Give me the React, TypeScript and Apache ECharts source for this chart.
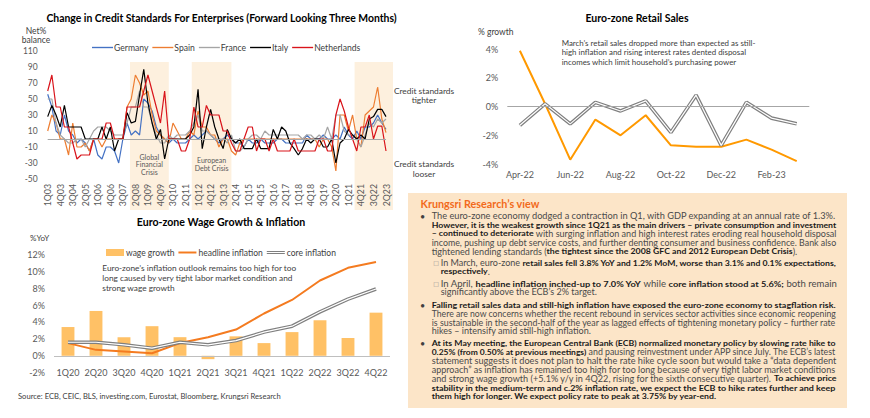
import React, { useEffect, useRef } from 'react';
import * as echarts from 'echarts';

// ---------- Credit standards (quarterly 1Q03 - 2Q23) ----------
const quarters: string[] = [];
for (let y = 2003; y <= 2023; y++) {
  for (let q = 1; q <= 4; q++) {
    if (y === 2023 && q > 2) break;
    quarters.push(`${q}Q${String(y).slice(2)}`);
  }
}

const germany = [
  56, 40, 10, 5, 30, 10, 5, -5, 0, -5, -15, 0, -20, -25, -10, -10, -15, -30, 0, 20,
  5, 10, 5, 50, 45, 35, 15, 5, 0, -5, 0, -5, -5, -5, 0, 5, 0, 5, 10, 5,
  0, -5, 0, 5, 0, -5, -5, -10, 0, -5, -5, 0, -5, -5, -5, 0, 0, -5, -5, -5,
  -5, -5, 5, 0, 0, 0, 5, 0, 0, 5, 0, 15, 5, 0, 10, 0, 15, 15, 20, 30,
  20, 12,
];
const spain = [
  10, 30, 20, 0, 0, -20, 20, -10, -10, -5, -15, 0, 0, -10, 0, 0, 0, 0, 0, 40,
  50, 80, 70, 55, 60, 30, 10, 5, 0, -5, 20, 10, 0, 0, 10, 5, 35, 15, 15, 5,
  5, -10, 0, 0, -15, -20, -5, 0, 0, 0, 0, 0, 0, 0, 0, 0, 0, 0, 0, 0,
  0, 0, 0, 0, 0, -10, 0, 0, -10, -40, 30, 30, 10, 30, 0, -10, 30, 35, 40, 65,
  25, 8,
];
const france = [
  50, 50, 20, 5, 0, -5, -5, 0, 0, -10, 0, 10, 15, 15, 15, 10, 5, 5, 5, 20,
  40, 40, 60, 40, 40, 20, 5, -5, -5, 5, 0, 5, 5, 5, 10, 20, 30, 10, 10, 5,
  0, 0, 0, -5, 5, -15, -15, -10, 0, 5, 5, 0, 10, 5, 5, 5, 5, 5, 5, 5,
  5, 0, 5, 5, 0, 5, 0, 15, 0, 30, 30, 10, 5, 5, 0, -10, 5, 20, 15, 25,
  20, 25,
];
const italy = [
  28, 42, 30, 15, 42, 15, 15, 15, 15, 0, 0, 0, 0, 15, 0, 15, -15, 0, 0, 33,
  20, 22, 55, 87, 45, 20, 0, 12, -25, 0, 0, 0, 0, 0, 5, 15, 62, -12, 15, 37,
  15, 0, -12, 12, 0, -5, 0, -12, -12, -12, 0, -12, -12, -12, 12, 0, 15, 10, -5, -12,
  -20, -12, 0, -5, 0, 0, -10, -10, 0, -30, -5, 0, 12, 5, 0, 5, 0, 25, 28, 37,
  37, 28,
];
const netherlands = [
  60, 80, 40, 40, 15, 15, -5, -25, -20, -20, -20, 0, 0, 0, 20, 20, 0, 0, 0, 40,
  40, 40, 40, 60, 80, 60, 40, 20, 60, 0, 0, 0, -15, -15, 0, 40, 15, 15, 42, 30,
  30, 30, 10, 10, -5, -15, -15, 0, 15, 15, -15, 0, 0, -15, 0, -15, -15, -15, -15, 0,
  -15, -15, -15, -15, -15, 0, 0, -15, -15, 30, 50, 35, 15, 0, -15, 15, 15, 30, 0, 16,
  16, -15,
];
// shaded crisis periods, in quarter-index units along the axis
const crisisBands: [number, number, string][] = [
  [19.7, 29, 'Global\nFinancial\nCrisis'],
  [34.5, 44, 'European\nDebt Crisis'],
  [73.5, 82.7, ''],
];

// ---------- Retail sales ----------
const months = ['Apr-22', 'May-22', 'Jun-22', 'Jul-22', 'Aug-22', 'Sep-22', 'Oct-22', 'Nov-22', 'Dec-22', 'Jan-23', 'Feb-23', 'Mar-23'];
const retailMoM = [-1.3, 0.2, -1.2, 0.3, -0.3, 0.4, -1.8, 0.8, -2.7, 0.3, -0.8, -1.2];
const retailYoY = [3.9, 0.2, -3.7, -0.9, -2.0, -0.6, -2.7, -2.8, -2.8, -2.3, -3.0, -3.8];

// ---------- Wage growth & inflation ----------
const wageQuarters = ['1Q20', '2Q20', '3Q20', '4Q20', '1Q21', '2Q21', '3Q21', '4Q21', '1Q22', '2Q22', '3Q22', '4Q22'];
const wageGrowth = [3.4, 5.3, 2.2, 3.5, 2.2, -0.4, 2.3, 1.5, 2.8, 4.2, 2.1, 5.1];
const headlineInflation = [1.5, 0.7, 0.5, 0.3, 1.5, 2.2, 3.1, 5.0, 6.6, 8.9, 10.4, 11.1];
const coreInflation = [1.6, 1.6, 1.3, 0.9, 1.6, 1.3, 1.8, 2.8, 3.5, 5.2, 6.7, 7.9];

// ---------- Commentary text ----------
type Seg = [string, string];
const panelLines: { x: number; y: number; j: boolean; segs: Seg[] }[] = [
  { x: 431.7, y: 216, j: true, segs: [['n', 'The euro-zone economy dodged a contraction in Q1, with GDP expanding at an annual rate of 1.3%.']] },
  { x: 431.7, y: 224.7, j: true, segs: [['b', 'However, it is the weakest growth since 1Q21 as the main drivers – private consumption and investment']] },
  { x: 431.7, y: 233.3, j: true, segs: [['b', '– continued to deteriorate'], ['n', ' with surging inflation and high interest rates eroding real household disposal']] },
  { x: 431.7, y: 242.3, j: true, segs: [['n', 'income, pushing up debt service costs, and further denting consumer and business confidence. Bank also']] },
  { x: 431.7, y: 251.3, j: false, segs: [['n', 'tightened lending standards ('], ['b', 'the tightest since the 2008 GFC and 2012 European Debt Crisis'], ['n', ').']] },
  { x: 440.7, y: 262.7, j: true, segs: [['n', 'In March, euro-zone '], ['b', 'retail sales fell 3.8% YoY and 1.2% MoM, worse than 3.1% and 0.1% expectations,']] },
  { x: 440.7, y: 271.3, j: false, segs: [['b', 'respectively'], ['n', '.']] },
  { x: 440.7, y: 283.3, j: true, segs: [['n', 'In April, '], ['b', 'headline inflation inched-up to 7.0% YoY'], ['n', ' while '], ['b', 'core inflation stood at 5.6%;'], ['n', ' both remain']] },
  { x: 440.7, y: 292, j: false, segs: [['n', 'significantly above the ECB’s 2% target.']] },
  { x: 431.7, y: 305, j: true, segs: [['b', 'Falling retail sales data and still-high inflation have exposed the euro-zone economy to stagflation risk.']] },
  { x: 431.7, y: 313.3, j: true, segs: [['n', 'There are now concerns whether the recent rebound in services sector activities since economic reopening']] },
  { x: 431.7, y: 322.3, j: true, segs: [['n', 'is sustainable in the second-half of the year as lagged effects of tightening monetary policy – further rate']] },
  { x: 431.7, y: 331, j: false, segs: [['n', 'hikes – intensify amid still-high inflation.']] },
  { x: 431.7, y: 343.3, j: true, segs: [['b', 'At its May meeting, the European Central Bank (ECB) normalized monetary policy by slowing rate hike to']] },
  { x: 431.7, y: 352, j: true, segs: [['b', '0.25% (from 0.50% at previous meetings)'], ['n', ' and pausing reinvestment under APP since July. The ECB’s latest']] },
  { x: 431.7, y: 360.7, j: true, segs: [['n', 'statement suggests it does not plan to halt the rate hike cycle soon but would take a “data dependent']] },
  { x: 431.7, y: 369.3, j: true, segs: [['n', 'approach” as inflation has remained too high for too long because of very tight labor market conditions']] },
  { x: 431.7, y: 378.3, j: true, segs: [['n', 'and strong wage growth (+5.1% y/y in 4Q22, rising for the sixth consecutive quarter). '], ['b', 'To achieve price']] },
  { x: 431.7, y: 387.3, j: true, segs: [['b', 'stability in the medium-term and c.2% inflation rate, we expect the ECB to hike rates further and keep']] },
  { x: 431.7, y: 396, j: false, segs: [['b', 'them high for longer. We expect policy rate to peak at 3.75% by year-end.']] },
];
const bullets: { x: number; y: number; ch: string }[] = [
  { x: 422.7, y: 216, ch: '•' },
  { x: 436, y: 262.7, ch: '□' },
  { x: 436, y: 283.3, ch: '□' },
  { x: 422.7, y: 305, ch: '•' },
  { x: 422.7, y: 343.3, ch: '•' },
];

const FONT = 'Lato';
const AX = '#595959';
const PANEL_RIGHT = 836.7;
const N_SIZE = 8.6;
const B_SIZE = 8.3;

function measureSegs(segs: Seg[]): number {
  const c = document.createElement('canvas').getContext('2d');
  if (!c) return 0;
  let w = 0;
  for (const [k, t] of segs) {
    c.font = k === 'b' ? `bold ${B_SIZE}px ${FONT}` : `${N_SIZE}px ${FONT}`;
    w += c.measureText(t).width;
  }
  return w;
}

const LINE_ICON = 'path://M0,0H20V1.3H0Z';
const THICK_LINE_ICON = 'path://M0,0H20V2.2H0Z';
const DOUBLE_LINE_ICON = 'path://M0,0H20V1.2H0ZM0,2.4H20V3.6H0Z';

function buildOption(): any {
  const graphics: any[] = [
    // commentary panel background
    { type: 'rect', shape: { x: 408, y: 193, width: 439, height: 215 }, style: { fill: '#FCE5C8' }, z: -10 },
    { type: 'text', x: 420.5, y: 203, style: { text: 'Krungsri Research’s view', fill: '#F26A1B', fontFamily: FONT, fontWeight: 'bold', fontSize: 10.8, textVerticalAlign: 'middle' } },
    // titles
    { type: 'text', x: 221.5, y: 18, style: { text: 'Change in Credit Standards For Enterprises (Forward Looking Three Months)', fill: '#000', fontFamily: FONT, fontWeight: 'bold', fontSize: 10.4, textAlign: 'center', textVerticalAlign: 'middle' } },
    { type: 'text', x: 637, y: 18, style: { text: 'Euro-zone Retail Sales', fill: '#000', fontFamily: FONT, fontWeight: 'bold', fontSize: 10.5, textAlign: 'center', textVerticalAlign: 'middle' } },
    { type: 'text', x: 221, y: 222, style: { text: 'Euro-zone Wage Growth & Inflation', fill: '#000', fontFamily: FONT, fontWeight: 'bold', fontSize: 10.6, textAlign: 'center', textVerticalAlign: 'middle' } },
    // axis names
    { type: 'text', x: 36, y: 35.5, style: { text: 'Net%\nbalance', fill: '#404040', fontFamily: FONT, fontSize: 8.5, lineHeight: 9.5, textAlign: 'center', textVerticalAlign: 'middle' } },
    { type: 'text', x: 478, y: 32, style: { text: '% growth', fill: '#404040', fontFamily: FONT, fontSize: 8.5, textVerticalAlign: 'middle' } },
    { type: 'text', x: 30, y: 238.3, style: { text: '%YoY', fill: '#404040', fontFamily: FONT, fontSize: 8, textVerticalAlign: 'middle' } },
    // credit side labels
    { type: 'text', x: 424, y: 95.3, style: { text: 'Credit standards\ntighter', fill: '#404040', fontFamily: FONT, fontSize: 8.4, lineHeight: 9.5, textAlign: 'center', textVerticalAlign: 'middle' } },
    { type: 'text', x: 424, y: 169, style: { text: 'Credit standards\nlooser', fill: '#404040', fontFamily: FONT, fontSize: 8.4, lineHeight: 9.5, textAlign: 'center', textVerticalAlign: 'middle' } },
    // annotations
    { type: 'text', x: 561.7, y: 52.3, style: { text: 'March’s retail sales dropped more than expected as still-\nhigh inflation and rising interest rates dented disposal\nincomes which limit household’s purchasing power', fill: '#404040', fontFamily: FONT, fontSize: 7.9, lineHeight: 9.7, textVerticalAlign: 'middle' } },
    { type: 'text', x: 102.3, y: 277.7, style: { text: 'Euro-zone’s inflation outlook remains too high for too\nlong caused by very tight labor market condition and\nstrong wage growth', fill: '#404040', fontFamily: FONT, fontSize: 8.3, lineHeight: 10, textVerticalAlign: 'middle' } },
    { type: 'text', x: 18, y: 396, style: { text: 'Source: ECB, CEIC, BLS, investing.com, Eurostat, Bloomberg, Krungsri Research', fill: '#404040', fontFamily: FONT, fontSize: 7.6, textVerticalAlign: 'middle' } },
  ];
  bullets.forEach((b) => {
    graphics.push({ type: 'text', x: b.x, y: b.y, style: { text: b.ch, fill: b.ch === '•' ? '#404040' : '#8C8C8C', fontFamily: b.ch === '•' ? FONT : 'DejaVu Sans', fontSize: b.ch === '•' ? 9 : 6, textAlign: 'center', textVerticalAlign: 'middle' } });
  });
  // justified lines stretched to the panel's right edge; paragraph-final lines use the median stretch
  const measured = panelLines.map((l) => measureSegs(l.segs));
  const ratios = panelLines
    .map((l, i) => (l.j && measured[i] > 0 ? (PANEL_RIGHT - l.x) / measured[i] : 0))
    .filter((r) => r > 0)
    .sort((a, b) => a - b);
  const medianRatio = ratios.length ? ratios[Math.floor(ratios.length / 2)] : 1;
  panelLines.forEach((l, i) => {
    const natural = measured[i];
    const target = PANEL_RIGHT - l.x;
    let sx = natural > 0 ? (l.j ? target / natural : Math.min(medianRatio, target / natural)) : 1;
    graphics.push({
      type: 'text', x: l.x, y: l.y, scaleX: sx,
      style: {
        text: l.segs.map(([k, t]) => `{${k}|${t}}`).join(''),
        fontFamily: FONT, fontSize: N_SIZE, textVerticalAlign: 'middle',
        rich: {
          n: { fontFamily: FONT, fontSize: N_SIZE, fill: '#4A4A4A', color: '#4A4A4A' },
          b: { fontFamily: FONT, fontSize: B_SIZE, fontWeight: 'bold', fill: '#1A1A1A', color: '#1A1A1A' },
        },
      },
    });
  });

  const lineS = (name: string, data: number[], color: string) => ({
    name, type: 'line', xAxisIndex: 0, yAxisIndex: 0, data, symbol: 'none', z: 3,
    lineStyle: { color, width: 1.2 }, itemStyle: { color },
  });

  const zeroLine = (color = '#A6A6A6') => ({
    silent: true, symbol: 'none', label: { show: false },
    lineStyle: { color, width: 1, type: 'solid' },
    data: [{ yAxis: 0 }],
  });

  const momData = retailMoM.map((v, i) => i === 9 ? { value: v, label: { show: true, position: 'top', distance: 5, formatter: 'MoM', color: '#595959', fontWeight: 'bold', fontSize: 10, fontFamily: FONT } } : v);
  const yoyData = retailYoY.map((v, i) => i === 9 ? { value: v, label: { show: true, position: 'bottom', distance: 8, formatter: 'YoY', color: '#FF9900', fontWeight: 'bold', fontSize: 10, fontFamily: FONT } } : v);

  return {
    animation: false,
    backgroundColor: '#fff',
    textStyle: { fontFamily: FONT },
    graphic: graphics,
    legend: [
      {
        data: ['Germany', 'Spain', 'France', 'Italy', 'Netherlands'].map((name) => ({ name, icon: LINE_ICON })),
        left: 87, top: 38, itemWidth: 21, itemHeight: 8, itemGap: 4,
        textStyle: { fontSize: 8.6, color: '#404040', fontFamily: FONT, padding: [0, 0, 0, -4] },
      },
      {
        data: [
          { name: 'wage growth', icon: 'rect' },
          { name: 'headline inflation', icon: THICK_LINE_ICON },
          { name: 'core inflation', icon: DOUBLE_LINE_ICON },
        ],
        left: 101, top: 243, itemWidth: 18, itemHeight: 7, itemGap: 4,
        textStyle: { fontSize: 8.5, color: '#404040', fontFamily: FONT, padding: [0, 0, 0, -3] },
      },
    ],
    grid: [
      { left: 47.7, top: 51, width: 338.3, height: 128 },
      { left: 47.7, top: 62, width: 345.3, height: 148 },
      { left: 507.3, top: 49.3, width: 302, height: 114.7 },
      { left: 54, top: 254.3, width: 336, height: 118.4 },
    ],
    xAxis: [
      {
        gridIndex: 0, type: 'category', data: quarters, boundaryGap: false, z: 5,
        axisLine: { show: false, onZero: false }, axisTick: { show: false },
        axisLabel: { interval: 2, rotate: 90, fontSize: 8.8, color: AX, margin: 5, fontFamily: FONT },
      },
      { gridIndex: 1, type: 'value', min: 0, max: 82.7, show: false },
      {
        gridIndex: 2, type: 'category', data: months, boundaryGap: true,
        axisLine: { show: false, onZero: false }, axisTick: { show: false },
        axisLabel: { interval: 1, fontSize: 9, color: AX, margin: 6, fontFamily: FONT },
      },
      {
        gridIndex: 3, type: 'category', data: wageQuarters, boundaryGap: true,
        axisLine: { show: false, onZero: false }, axisTick: { show: false },
        axisLabel: { interval: 0, fontSize: 9, color: AX, margin: -5, fontFamily: FONT },
      },
    ],
    yAxis: [
      {
        gridIndex: 0, type: 'value', min: -50, max: 110, interval: 20, z: 5,
        axisLine: { show: false }, axisTick: { show: false }, splitLine: { show: false },
        axisLabel: { fontSize: 8.5, color: AX, margin: 10, fontFamily: FONT },
      },
      { gridIndex: 1, type: 'value', min: 0, max: 1, show: false },
      {
        gridIndex: 2, type: 'value', min: -4, max: 4, interval: 2,
        axisLine: { show: false }, axisTick: { show: false }, splitLine: { show: false },
        axisLabel: { fontSize: 9, color: AX, margin: 9, formatter: '{value}%', fontFamily: FONT },
      },
      {
        gridIndex: 3, type: 'value', min: -2, max: 12, interval: 2,
        axisLine: { show: false }, axisTick: { show: false }, splitLine: { show: false },
        axisLabel: { fontSize: 9, color: AX, margin: 9, formatter: '{value}%', fontFamily: FONT },
      },
    ],
    series: [
      {
        name: 'bands', type: 'line', xAxisIndex: 1, yAxisIndex: 1, data: [], z: 0, silent: true,
        markArea: {
          silent: true,
          itemStyle: { color: '#FDF0DE' },
          label: { show: true, position: ['50%', '69%'], align: 'center', verticalAlign: 'middle', color: '#595959', fontSize: 7, lineHeight: 7.5, fontFamily: FONT, formatter: '{b}' },
          data: crisisBands.map(([a, b, name]) => [{ name, xAxis: a, yAxis: 0 }, { xAxis: b, yAxis: 1 }]),
        },
      },
      { ...lineS('Germany', germany, '#4472C4'), markLine: zeroLine() },
      lineS('Spain', spain, '#ED7D31'),
      lineS('France', france, '#A5A5A5'),
      lineS('Italy', italy, '#000000'),
      lineS('Netherlands', netherlands, '#D9141B'),
      // retail
      {
        name: 'YoY', type: 'line', xAxisIndex: 2, yAxisIndex: 2, data: yoyData, symbol: 'none',
        lineStyle: { color: '#FF9900', width: 2 }, itemStyle: { color: '#FF9900' }, markLine: zeroLine(),
      },
      {
        name: 'MoM', type: 'line', xAxisIndex: 2, yAxisIndex: 2, data: momData, symbol: 'none',
        lineStyle: { color: '#7F7F7F', width: 3.6 }, itemStyle: { color: '#7F7F7F' },
      },
      {
        name: 'MoM inner', type: 'line', xAxisIndex: 2, yAxisIndex: 2, data: retailMoM, symbol: 'none',
        lineStyle: { color: '#FFFFFF', width: 1.2 }, silent: true,
      },
      // wage
      {
        name: 'wage growth', type: 'bar', xAxisIndex: 3, yAxisIndex: 3, data: wageGrowth, barWidth: '46%',
        itemStyle: { color: '#FFC166' }, markLine: zeroLine('#BFBFBF'),
      },
      {
        name: 'headline inflation', type: 'line', xAxisIndex: 3, yAxisIndex: 3, data: headlineInflation, symbol: 'none',
        lineStyle: { color: '#F47B20', width: 2 }, itemStyle: { color: '#F47B20' },
      },
      {
        name: 'core inflation', type: 'line', xAxisIndex: 3, yAxisIndex: 3, data: coreInflation, symbol: 'none',
        lineStyle: { color: '#7F7F7F', width: 3.6 }, itemStyle: { color: '#7F7F7F' },
      },
      {
        name: 'core inner', type: 'line', xAxisIndex: 3, yAxisIndex: 3, data: coreInflation, symbol: 'none',
        lineStyle: { color: '#FFFFFF', width: 1.2 }, silent: true,
      },
    ],
  };
}

export default function App() {
  const ref = useRef<HTMLDivElement>(null);
  useEffect(() => {
    if (!ref.current) return;
    const chart = echarts.init(ref.current, null, { renderer: 'svg' });
    chart.setOption(buildOption());
    return () => chart.dispose();
  }, []);
  return <div ref={ref} style={{ position: 'fixed', left: 0, top: 0, width: 870, height: 418, background: '#fff' }} />;
}
